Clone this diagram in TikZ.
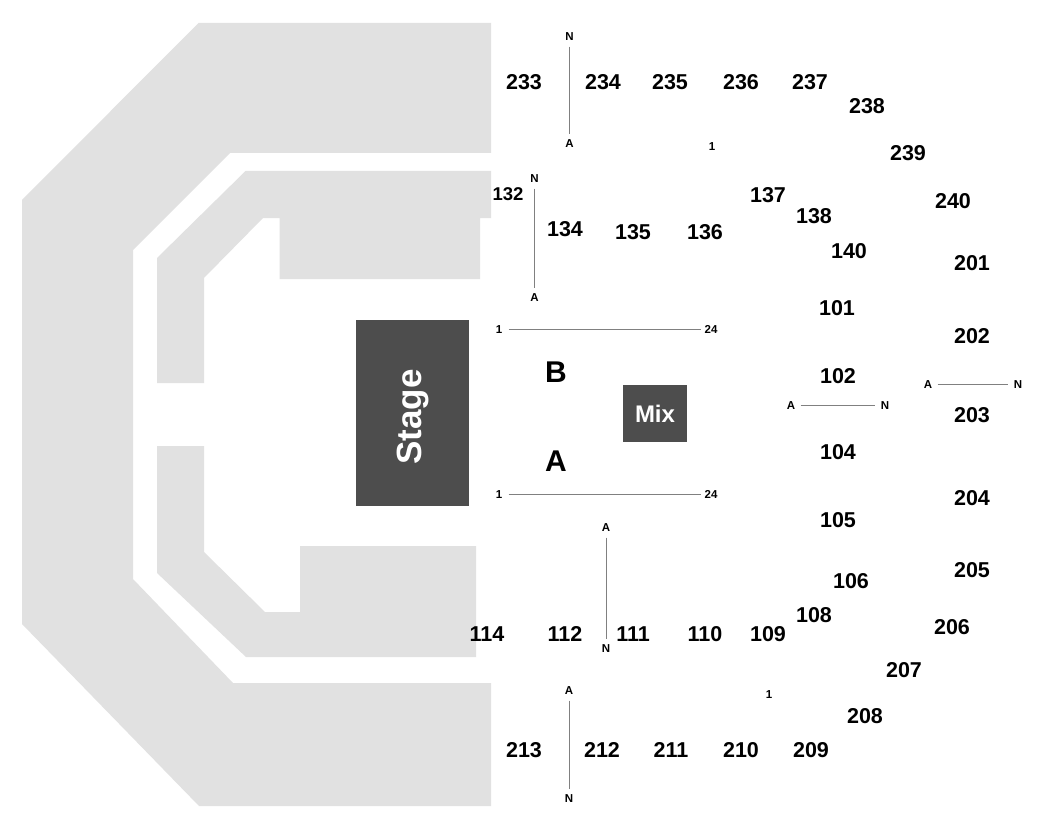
\documentclass[tikz,border=0pt]{standalone}
\usepackage{fontspec}
\setmainfont{Liberation Sans}
\definecolor{seatgray}{HTML}{E1E1E1}
\definecolor{blockgray}{HTML}{4D4D4D}
\definecolor{rulegray}{HTML}{808080}
\newcommand{\lowtxt}[1]{\raisebox{-1pt}{#1}}
\tikzset{
  seating/.style={fill=seatgray,draw=none},
  block/.style={fill=blockgray,draw=none},
  seclabel/.style={inner sep=0pt,yshift=-0.7pt,font=\fontsize{21.5}{26}\selectfont\bfseries,text=black},
  smallsec/.style={inner sep=0pt,font=\fontsize{18.5}{22}\selectfont\bfseries,text=black},
  rowlabel/.style={inner sep=0pt,font=\fontsize{30}{36}\selectfont\bfseries,text=black},
  endlabel/.style={inner sep=0pt,minimum size=19pt,font=\fontsize{11.5}{14}\selectfont\bfseries,text=black},
  rowline/.style={draw=rulegray,line width=1pt},
  whitetext/.style={inner sep=0pt,text=white}
}
\begin{document}
\begin{tikzpicture}[x=1pt,y=-1pt]
\useasboundingbox (0,0) rectangle (1050,840);
\fill[white] (0,0) rectangle (1050,840);
% seating blocks
\path[seating] (22,200) -- (198.5,23) -- (491,23) -- (491,153) -- (230,153) -- (133,250) -- (133,579) -- (233,683) -- (491,683) -- (491,806) -- (199,806) -- (22,624) -- cycle;
\path[seating] (157,258) -- (245.5,171) -- (491,171) -- (491,218) -- (480,218) -- (480,279) -- (279.5,279) -- (279.5,218) -- (263,218) -- (204,278) -- (204,383) -- (157,383) -- cycle;
\path[seating] (157,446) -- (204,446) -- (204,552) -- (265,612) -- (300,612) -- (300,546) -- (476,546) -- (476,657) -- (246,657) -- (157,573) -- cycle;
% stage and mix
\path[block] (356,319.5) rectangle (469,506);
\path[block] (623,384.5) rectangle (687,442);
\node[whitetext,rotate=90,font=\fontsize{35}{42}\selectfont\bfseries] (stage) at (413,417) {Stage};
\node[whitetext,font=\fontsize{24}{29}\selectfont\bfseries] (mix) at (655,413.5) {Mix};
% section labels
\foreach \t/\x/\y in {233/524/81,234/603/81,235/670/81,236/741/81,237/810/81,238/867/105,239/908/152,240/953/200,
  201/972/262,202/972/335,203/972/414,204/972/497,205/972/569,206/952/626,207/904/669,208/865/715,
  209/811/749,210/741/749,211/671/749,212/602/749,213/524/749,
  134/565/228,135/633/231,136/705/231,137/768/194,138/814/215,140/849/250,
  101/837/307,102/838/375,104/838/451,105/838/519,106/851/580,108/814/614,
  109/768/633,110/705/633,111/633/633,112/565/633,114/487/633}
  \node[seclabel] (s\t) at (\x,\y) {\t};
\node[smallsec] (s132) at (508,194) {132};
\node[rowlabel] (rowB) at (556,372.5) {B};
\node[rowlabel] (rowA) at (556,461.5) {A};
% row end labels and lines
\node[endlabel] (n1) at (569.5,37) {\lowtxt{N}};
\node[endlabel] (a1) at (569.5,144) {\lowtxt{A}};
\draw[rowline] (n1) -- (a1);
\node[endlabel] (n2) at (534.5,179) {\lowtxt{N}};
\node[endlabel] (a2) at (534.5,298) {\lowtxt{A}};
\draw[rowline] (n2) -- (a2);
\node[endlabel] (b1) at (499,329.5) {\lowtxt{1}};
\node[endlabel] (b24) at (711,329.5) {\lowtxt{24}};
\draw[rowline] (b1) -- (b24);
\node[endlabel] (c1) at (499,494.5) {\lowtxt{1}};
\node[endlabel] (c24) at (711,494.5) {\lowtxt{24}};
\draw[rowline] (c1) -- (c24);
\node[endlabel] (a3) at (606,528) {\lowtxt{A}};
\node[endlabel] (n3) at (606,649) {\lowtxt{N}};
\draw[rowline] (a3) -- (n3);
\node[endlabel] (a4) at (569,691) {\lowtxt{A}};
\node[endlabel] (n4) at (569,799) {\lowtxt{N}};
\draw[rowline] (a4) -- (n4);
\node[endlabel] (a5) at (791,405.5) {\lowtxt{A}};
\node[endlabel] (n5) at (885,405.5) {\lowtxt{N}};
\draw[rowline] (a5) -- (n5);
\node[endlabel] (a6) at (928,384.5) {\lowtxt{A}};
\node[endlabel] (n6) at (1018,384.5) {\lowtxt{N}};
\draw[rowline] (a6) -- (n6);
\node[endlabel] (up1) at (712,147) {\lowtxt{1}};
\node[endlabel] (lo1) at (769,695) {\lowtxt{1}};
\end{tikzpicture}
\end{document}
